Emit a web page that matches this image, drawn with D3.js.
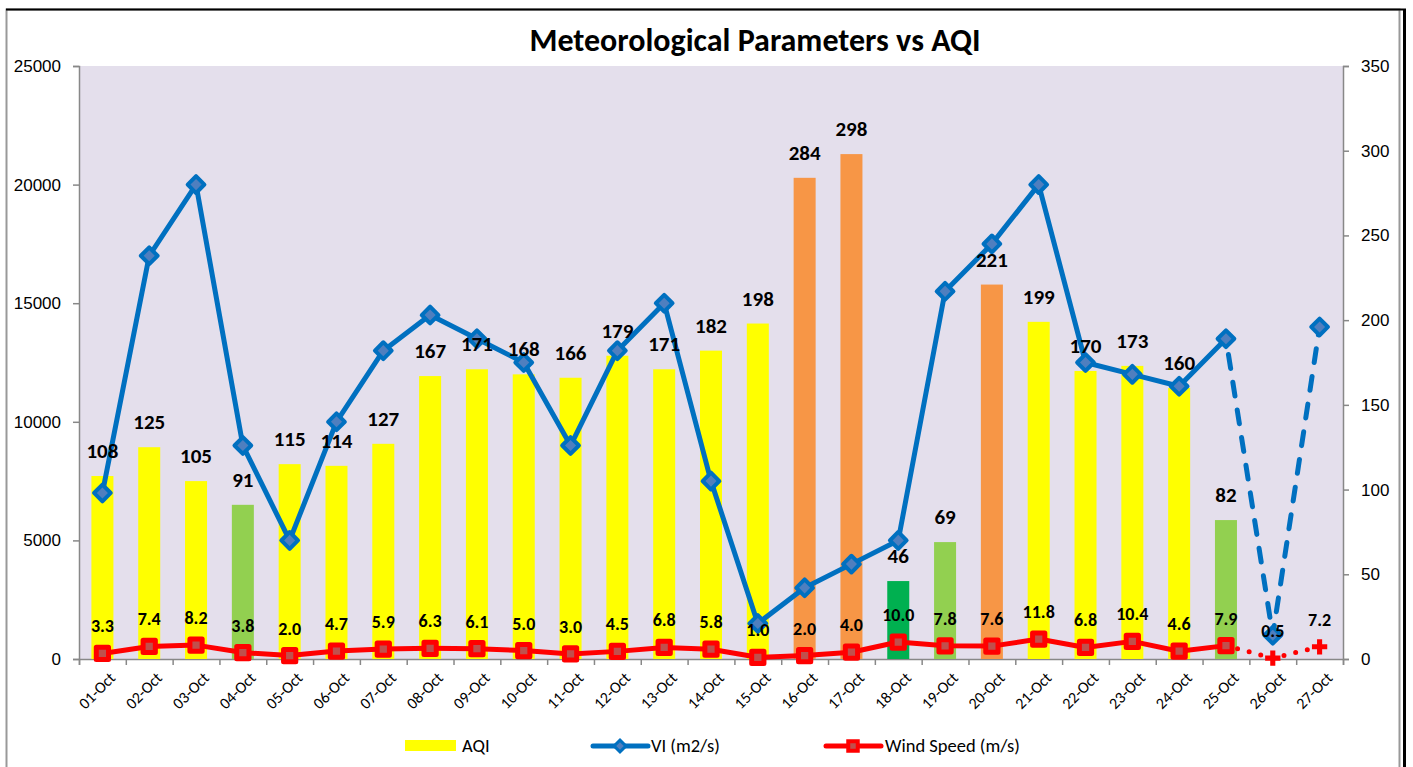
<!DOCTYPE html>
<html>
<head>
<meta charset="utf-8">
<script src="https://cdn.jsdelivr.net/npm/d3@7"></script>
<style>
  body { margin: 0; background: #fff; }
  svg { display: block; font-family: Carlito, Calibri, Lato, sans-serif; }
</style>
</head>
<body>
<svg id="chart" width="1413" height="767"></svg>
<script>
// categories and series
const days = ["01-Oct","02-Oct","03-Oct","04-Oct","05-Oct","06-Oct","07-Oct","08-Oct","09-Oct","10-Oct",
              "11-Oct","12-Oct","13-Oct","14-Oct","15-Oct","16-Oct","17-Oct","18-Oct","19-Oct","20-Oct",
              "21-Oct","22-Oct","23-Oct","24-Oct","25-Oct","26-Oct","27-Oct"];
const aqi = [108,125,105,91,115,114,127,167,171,168,166,179,171,182,198,284,298,46,69,221,199,170,173,160,82,null,null];
const vi = [7000,17000,20000,9000,5000,10000,13000,14500,13500,12500,9000,13000,15000,7500,1500,3000,4000,5000,
            15500,17500,20000,12500,12000,11500,13500,1000,14000];
const wind = [3.3,7.4,8.2,3.8,2.0,4.7,5.9,6.3,6.1,5.0,3.0,4.5,6.8,5.8,1.0,2.0,4.0,10.0,7.8,7.6,11.8,6.8,10.4,4.6,7.9,0.5,7.2];
const leftTicks = [0,5000,10000,15000,20000,25000];
const rightTicks = [0,50,100,150,200,250,300,350];
const lastMeasured = 24; // index of 25-Oct, later points are forecast (dashed)

function aqiColor(v) {
    if (v <= 50) return "#00B050";
    if (v <= 100) return "#92D050";
    if (v <= 200) return "#FFFF00";
    return "#F79646";
}

const svg = d3.select("#chart");
const plot = { left: 79, right: 1343, top: 66, bottom: 659 };

// outer frame
svg.append("rect").attr("x", 6.5).attr("y", 9.5).attr("width", 1393).attr("height", 780)
    .attr("fill", "#fff").attr("stroke", "#999").attr("stroke-width", 2);
svg.append("line").attr("x1", 6).attr("x2", 1406).attr("y1", 9.5).attr("y2", 9.5)
    .attr("stroke", "#000").attr("stroke-width", 2);
svg.append("line").attr("x1", 1404.5).attr("x2", 1404.5).attr("y1", 9).attr("y2", 767)
    .attr("stroke", "#000").attr("stroke-width", 3);

svg.append("rect").attr("x", plot.left).attr("y", plot.top)
    .attr("width", plot.right - plot.left).attr("height", plot.bottom - plot.top)
    .attr("fill", "#E4DFEC");

const x = d3.scaleBand().domain(days).range([plot.left, plot.right]).padding(0);
const xi = d3.scaleLinear().domain([0, days.length]).range([plot.left, plot.right]);
const yL = d3.scaleLinear().domain([0, 25000]).range([plot.bottom, plot.top]);
const yR = d3.scaleLinear().domain([0, 350]).range([plot.bottom, plot.top]);
const cx = d => x(d) + x.bandwidth() / 2;
const barW = x.bandwidth() * 0.47;

// title
svg.append("text").attr("x", 755).attr("y", 51).attr("text-anchor", "middle")
    .attr("font-size", 32).attr("font-weight", "bold").text("Meteorological Parameters vs AQI");

// axes
function styleAxis(g) {
    g.select(".domain").attr("stroke", "#888").attr("stroke-width", 1.5);
    g.selectAll(".tick line").attr("stroke", "#888").attr("stroke-width", 1.5);
    g.selectAll(".tick text").attr("fill", "#000").attr("font-size", 17);
}
svg.append("g").attr("transform", `translate(${plot.left},0)`)
    .call(d3.axisLeft(yL).tickValues(leftTicks).tickSize(6).tickPadding(12).tickFormat(d3.format("d")))
    .call(styleAxis);
svg.append("g").attr("transform", `translate(${plot.right},0)`)
    .call(d3.axisRight(yR).tickValues(rightTicks).tickSize(6).tickPadding(12))
    .call(styleAxis);
svg.append("g").attr("transform", `translate(0,${plot.bottom})`)
    .call(d3.axisBottom(xi).tickValues(d3.range(days.length + 1)).tickSize(6).tickFormat(""))
    .call(styleAxis);

svg.append("g").selectAll("text").data(days).join("text")
    .attr("transform", d => `translate(${cx(d) + 6},${plot.bottom + 12}) rotate(-45)`)
    .attr("text-anchor", "end").attr("dy", "0.7em")
    .attr("font-size", 16).text(d => d);

// AQI bars
const bars = days.map((d, i) => ({ day: d, v: aqi[i] })).filter(b => b.v != null);
svg.append("g").selectAll("rect").data(bars).join("rect")
    .attr("x", b => cx(b.day) - barW / 2).attr("width", barW)
    .attr("y", b => yR(b.v)).attr("height", b => plot.bottom - yR(b.v))
    .attr("fill", b => aqiColor(b.v));

// VI line
const viPts = days.map((d, i) => ({ day: d, v: vi[i], i: i }));
const viLine = d3.line().x(p => cx(p.day)).y(p => yL(p.v));
svg.append("path").datum(viPts.slice(0, lastMeasured + 1)).attr("d", viLine)
    .attr("fill", "none").attr("stroke", "#0070C0").attr("stroke-width", 5).attr("stroke-linejoin", "round");
svg.append("path").datum(viPts.slice(lastMeasured)).attr("d", viLine)
    .attr("fill", "none").attr("stroke", "#0070C0").attr("stroke-width", 5)
    .attr("stroke-dasharray", "14,14").attr("stroke-linecap", "round").attr("stroke-dashoffset", -16);
svg.append("g").selectAll("path").data(viPts).join("path")
    .attr("d", d3.symbol(d3.symbolSquare, 140))
    .attr("transform", p => `translate(${cx(p.day)},${yL(p.v)}) rotate(45)`)
    .attr("fill", "#4F7FBF").attr("stroke", "#0070C0").attr("stroke-width", 4).attr("stroke-linejoin", "round");

// wind speed line
const wPts = days.map((d, i) => ({ day: d, v: wind[i], i: i }));
const wLine = d3.line().x(p => cx(p.day)).y(p => yR(p.v));
svg.append("path").datum(wPts.slice(0, lastMeasured + 1)).attr("d", wLine)
    .attr("fill", "none").attr("stroke", "#FF0000").attr("stroke-width", 5).attr("stroke-linejoin", "round");
svg.append("path").datum(wPts.slice(lastMeasured)).attr("d", wLine)
    .attr("fill", "none").attr("stroke", "#FF0000").attr("stroke-width", 5)
    .attr("stroke-dasharray", "0,12").attr("stroke-linecap", "round");
svg.append("g").selectAll("path").data(wPts).join("path")
    .attr("d", p => p.i > lastMeasured ? d3.symbol(d3.symbolCross, 130)() : d3.symbol(d3.symbolSquare, 150)())
    .attr("transform", p => `translate(${cx(p.day)},${yR(p.v)})`)
    .attr("fill", p => p.i > lastMeasured ? "#FF0000" : "#C0504D")
    .attr("stroke", p => p.i > lastMeasured ? "none" : "#FF0000")
    .attr("stroke-width", 5).attr("stroke-linejoin", "round");

// data labels
svg.append("g").selectAll("text").data(bars).join("text")
    .attr("x", b => cx(b.day)).attr("y", b => yR(b.v) - 18)
    .attr("text-anchor", "middle").attr("font-size", 21).attr("font-weight", "bold")
    .text(b => b.v);
svg.append("g").selectAll("text").data(wPts).join("text")
    .attr("x", p => cx(p.day)).attr("y", p => yR(p.v) - 21)
    .attr("text-anchor", "middle").attr("font-size", 18).attr("font-weight", "bold")
    .text(p => d3.format(".1f")(p.v));

// legend
const lg = svg.append("g").attr("transform", "translate(0,746)");
lg.append("rect").attr("x", 405).attr("y", -6).attr("width", 51).attr("height", 11).attr("fill", "#FFFF00");
lg.append("text").attr("x", 462).attr("y", 0).attr("dy", "0.35em").attr("font-size", 18.5).text("AQI");
lg.append("line").attr("x1", 593).attr("x2", 648).attr("y1", 0).attr("y2", 0)
    .attr("stroke", "#0070C0").attr("stroke-width", 5).attr("stroke-linecap", "round");
lg.append("path").attr("d", d3.symbol(d3.symbolSquare, 70))
    .attr("transform", "translate(620,0) rotate(45)").attr("fill", "#4F7FBF")
    .attr("stroke", "#0070C0").attr("stroke-width", 3);
lg.append("text").attr("x", 651).attr("y", 0).attr("dy", "0.35em").attr("font-size", 18.5).text("VI (m2/s)");
lg.append("line").attr("x1", 826).attr("x2", 881).attr("y1", 0).attr("y2", 0)
    .attr("stroke", "#FF0000").attr("stroke-width", 5).attr("stroke-linecap", "round");
lg.append("path").attr("d", d3.symbol(d3.symbolSquare, 90))
    .attr("transform", "translate(853,0)").attr("fill", "#C0504D")
    .attr("stroke", "#FF0000").attr("stroke-width", 4);
lg.append("text").attr("x", 885).attr("y", 0).attr("dy", "0.35em").attr("font-size", 18.5).text("Wind Speed (m/s)");
</script>
</body>
</html>
